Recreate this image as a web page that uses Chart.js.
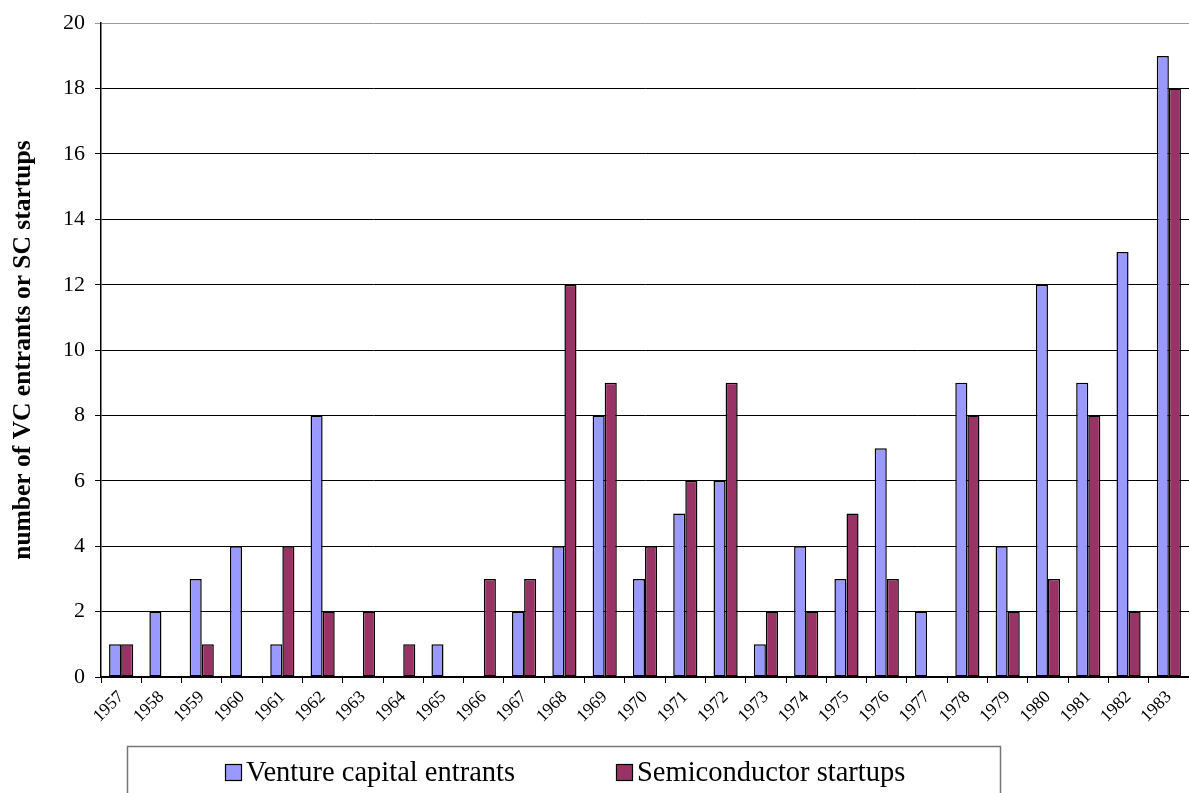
<!DOCTYPE html>
<html>
<head>
<meta charset="utf-8">
<script src="https://cdn.jsdelivr.net/npm/chart.js@4/dist/chart.umd.min.js"></script>
<style>
  html, body { margin: 0; padding: 0; background: #fff; }
  #wrap { width: 1189px; height: 793px; position: relative; }
</style>
</head>
<body>
<div id="wrap"><canvas id="c"></canvas></div>
<script>
const years = ['1957','1958','1959','1960','1961','1962','1963','1964','1965','1966','1967','1968','1969','1970',
  '1971','1972','1973','1974','1975','1976','1977','1978','1979','1980','1981','1982','1983'];
const ventureCapital = [1,2,3,4,1,8,0,0,1,0,2,4,8,3,5,6,1,4,3,7,2,9,4,12,9,13,19];
const scStartups = [1,0,1,0,4,2,2,1,0,3,3,12,9,4,6,9,2,2,5,3,0,8,2,3,8,2,18];
const seriesNames = ['Venture capital entrants', 'Semiconductor startups'];

const font = 'Times New Roman, Liberation Serif, serif';

// legend drawn as a boxed strip under the axis, like the original
const boxedLegend = {
  id: 'boxedLegend',
  afterDraw(chart) {
    const ctx = chart.ctx;
    ctx.save();
    ctx.strokeStyle = '#777';
    ctx.lineWidth = 1.5;
    ctx.strokeRect(127.5, 746.5, 873, 60);
    ctx.font = '28.5px ' + font;
    ctx.textBaseline = 'alphabetic';
    const xs = [225, 616];
    chart.data.datasets.forEach((ds, i) => {
      ctx.fillStyle = ds.backgroundColor;
      ctx.fillRect(xs[i] + 0.5, 764.5, 16, 16);
      ctx.strokeStyle = '#000';
      ctx.lineWidth = 1.2;
      ctx.strokeRect(xs[i] + 0.5, 764.5, 16, 16);
      ctx.fillStyle = '#000';
      ctx.fillText(ds.label, xs[i] + 21, 781);
    });
    ctx.restore();
  }
};

// no outline on empty bars
const bw = (c) => (c.raw === 0 ? 0 : 1.5);

new Chart(document.getElementById('c'), {
  type: 'bar',
  data: {
    labels: years,
    datasets: [
      {
        label: seriesNames[0],
        data: ventureCapital,
        backgroundColor: '#9999FF',
        borderColor: '#000',
        borderWidth: bw,
        borderSkipped: false,
        categoryPercentage: 0.6,
        barPercentage: 1.0
      },
      {
        label: seriesNames[1],
        data: scStartups,
        backgroundColor: '#993366',
        borderColor: '#000',
        borderWidth: bw,
        borderSkipped: false,
        categoryPercentage: 0.6,
        barPercentage: 1.0
      }
    ]
  },
  options: {
    responsive: true,
    maintainAspectRatio: false,
    animation: false,
    layout: { padding: { top: 6, right: 0, bottom: 60, left: 0 } },
    plugins: {
      legend: { display: false },
      tooltip: { enabled: false }
    },
    scales: {
      x: {
        afterFit: (s) => { s.height = 56; },
        grid: {
          display: true,
          offset: true,
          drawOnChartArea: false,
          color: '#000',
          tickLength: 6
        },
        border: { color: '#000', width: 1.5 },
        ticks: {
          color: '#000',
          font: { family: font, size: 17.5 },
          minRotation: 45,
          maxRotation: 45,
          autoSkip: false,
          padding: 4
        }
      },
      y: {
        min: 0,
        max: 20,
        afterFit: (s) => { s.width = 101; },
        ticks: {
          stepSize: 2,
          color: '#000',
          font: { family: font, size: 22 },
          padding: 10
        },
        grid: {
          color: (c) => (c.tick && c.tick.value === 20 ? '#999' : '#000'),
          tickLength: 6
        },
        border: { color: '#000', width: 1.5 },
        title: {
          display: true,
          text: 'number of VC entrants or SC startups',
          color: '#000',
          font: { family: font, size: 25.5, weight: 'bold' },
          padding: { top: 8, bottom: 0 }
        }
      }
    }
  },
  plugins: [boxedLegend]
});
</script>
</body>
</html>
